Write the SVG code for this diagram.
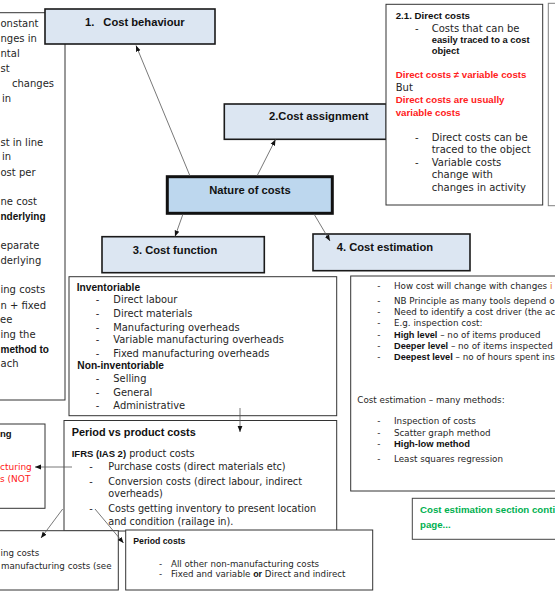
<svg xmlns="http://www.w3.org/2000/svg" width="555" height="592" viewBox="0 0 555 592">
<style>
.r{font-family:"DejaVu Sans",sans-serif;fill:#262626}
.b{font-family:"Liberation Sans",Arial,sans-serif;font-weight:bold;fill:#111}
.hb{font-family:"Liberation Sans",Arial,sans-serif;font-weight:bold;font-size:11.2px;fill:#111}
.red{fill:#ff2020}
.grn{font-family:"Liberation Sans",Arial,sans-serif;font-weight:bold;font-size:9.7px;fill:#00b050}
.hdr{fill:#dce6f2;stroke:#1a1a1a;stroke-width:1.6}
.tb{fill:#fff;stroke:#333;stroke-width:1}
.cn{stroke:#555;stroke-width:0.8;fill:none}
</style>
<defs>
<marker id="ah" viewBox="0 0 10 10" refX="10" refY="5" markerWidth="6" markerHeight="6" markerUnits="userSpaceOnUse" orient="auto"><path d="M0,1 L10,5 L0,9 z" fill="#111"/></marker>
</defs>
<rect width="555" height="592" fill="#fff"/>

<g id="left-notes">
<rect class="tb" x="-2" y="12.7" width="67" height="387.3"/>
<g class="r" font-size="10">
<text x="0.5" y="27.3">onstant</text>
<text x="0.5" y="41.6">nges in</text>
<text x="0.5" y="56.6">ntal</text>
<text x="0.5" y="71.6">st</text>
<text x="12" y="86.6">changes</text>
<text x="2" y="101.6">in</text>
<text x="0.5" y="145.6">st in line</text>
<text x="2" y="160">in</text>
<text x="0.5" y="175.6">ost per</text>
<text x="0.5" y="204.5">ne cost</text>
<text x="0.5" y="219.8" class="b" font-size="10">nderlying</text>
<text x="0.5" y="249.3">eparate</text>
<text x="0.5" y="264.3">derlying</text>
<text x="0.5" y="293.3">ing costs</text>
<text x="0.5" y="309">n + fixed</text>
<text x="0" y="323.3">ee</text>
<text x="0.5" y="338.3">ing the</text>
<text x="0.5" y="352.6" class="b" font-size="10">method to</text>
<text x="0.5" y="367.3">ach</text>
</g>
</g>

<g id="right-partial">
<rect x="548.3" y="3.3" width="20" height="202.4" fill="#fff" stroke="#808080" stroke-width="1"/>
</g>

<g id="cost-behaviour">
<rect class="hdr" x="45" y="9" width="170" height="35"/>
<text class="hb" x="85" y="26">1.</text>
<text class="hb" x="103.3" y="26">Cost behaviour</text>
</g>

<g id="cost-assignment">
<rect class="hdr" x="224.3" y="104" width="162" height="35.3"/>
<text class="hb" x="269" y="119.7">2.Cost assignment</text>
</g>

<g id="direct-costs">
<rect class="tb" x="386" y="4.3" width="156.7" height="200.7"/>
<text class="b" font-size="9.7" x="395.7" y="19.3">2.1. Direct costs</text>
<g class="r" font-size="10">
<text x="415" y="31.6">-</text>
<text x="431.7" y="31.6">Costs that can be</text>
<text x="415" y="140.6">-</text>
<text x="431.7" y="140.6">Direct costs can be</text>
<text x="431.7" y="153.3">traced to the object</text>
<text x="415" y="166">-</text>
<text x="431.7" y="166">Variable costs</text>
<text x="431.7" y="178.3">change with</text>
<text x="431.7" y="190.6">changes in activity</text>
<text x="395.7" y="90.6">But</text>
</g>
<g class="b" font-size="9.4">
<text x="431.7" y="42.6">easily traced to a cost</text>
<text x="431.7" y="54">object</text>
</g>
<g class="b red" font-size="9.7">
<text x="395.7" y="78.3" class="b red">Direct costs ≠ variable costs</text>
<text x="395.7" y="103.3" class="b red">Direct costs are usually</text>
<text x="395.7" y="115.6" class="b red">variable costs</text>
</g>
</g>

<g id="nature-of-costs">
<rect x="167.3" y="176.7" width="165" height="36.6" fill="#bdd7ee" stroke="#111" stroke-width="3"/>
<text class="hb" font-size="11" x="250" y="194" text-anchor="middle">Nature of costs</text>
</g>

<g id="cost-function">
<rect class="hdr" x="102" y="236.7" width="162.3" height="36"/>
<text class="hb" x="132.7" y="254">3. Cost function</text>
</g>

<g id="cost-estimation">
<rect class="hdr" x="313" y="234" width="157" height="36.7"/>
<text class="hb" x="336.7" y="250.7">4. Cost estimation</text>
</g>

<g id="inventoriable">
<rect class="tb" x="69" y="276.7" width="267.7" height="139"/>
<text class="b" font-size="10.2" x="76.7" y="290.6">Inventoriable</text>
<text class="b" font-size="10.2" x="77.3" y="369.3">Non-inventoriable</text>
<g class="r" font-size="9.9">
<text x="95.7" y="303.3">-</text><text x="113.3" y="303.3">Direct labour</text>
<text x="95.7" y="317.3">-</text><text x="113.3" y="317.3">Direct materials</text>
<text x="95.7" y="330.6">-</text><text x="113.3" y="330.6">Manufacturing overheads</text>
<text x="95.7" y="343.3">-</text><text x="113.3" y="343.3">Variable manufacturing overheads</text>
<text x="95.7" y="357.3">-</text><text x="113.3" y="357.3">Fixed manufacturing overheads</text>
<text x="95.7" y="382.3">-</text><text x="113.3" y="382.3">Selling</text>
<text x="95.7" y="395.6">-</text><text x="113.3" y="395.6">General</text>
<text x="95.7" y="409">-</text><text x="113.3" y="409">Administrative</text>
</g>
</g>

<g id="estimation-notes">
<rect class="tb" x="350.7" y="276" width="215" height="215"/>
<g class="r" font-size="8.75">
<text x="377.3" y="289">-</text><text x="394" y="289">How cost will change with changes <tspan fill="#e46c0a">i</tspan></text>
<text x="377.3" y="303.7">-</text><text x="394" y="303.7">NB Principle as many tools depend o</text>
<text x="377.3" y="314.7">-</text><text x="394" y="314.7">Need to identify a cost driver (the ac</text>
<text x="377.3" y="325.7">-</text><text x="394" y="325.7">E.g. inspection cost:</text>
<text x="377.3" y="337.7">-</text><text x="394" y="337.7"><tspan class="b" font-size="9.2">High level</tspan> – no of items produced</text>
<text x="377.3" y="349">-</text><text x="394" y="349"><tspan class="b" font-size="9.2">Deeper level</tspan> – no of items inspected</text>
<text x="377.3" y="360.3">-</text><text x="394" y="360.3"><tspan class="b" font-size="9.2">Deepest level</tspan> – no of hours spent ins</text>
<text x="357.3" y="403">Cost estimation – many methods:</text>
<text x="377.3" y="423.7">-</text><text x="394" y="423.7">Inspection of costs</text>
<text x="377.3" y="435.7">-</text><text x="394" y="435.7">Scatter graph method</text>
<text x="377.3" y="447.3">-</text><text x="394" y="447.3" class="b" font-size="9.4">High-low method</text>
<text x="377.3" y="461.7">-</text><text x="394" y="461.7">Least squares regression</text>
</g>
</g>

<g id="continued-note">
<rect x="412.3" y="498.3" width="160" height="41" fill="#fff" stroke="#444" stroke-width="1"/>
<text class="grn" x="420" y="512.8">Cost estimation section conti</text>
<text class="grn" x="420" y="527.5">page...</text>
</g>

<g id="period-vs-product">
<rect class="tb" x="64" y="420.5" width="272.7" height="110.5"/>
<text class="b" font-size="10.9" x="71.7" y="435.5">Period vs product costs</text>
<text class="r" font-size="9.7" x="71.7" y="457.3"><tspan class="b" font-size="9.5">IFRS (IAS 2)</tspan> product costs</text>
<g class="r" font-size="9.7">
<text x="89.3" y="470">-</text><text x="108.3" y="470">Purchase costs (direct materials etc)</text>
<text x="89.3" y="485">-</text><text x="108.3" y="485">Conversion costs (direct labour, indirect</text>
<text x="108.3" y="497.3">overheads)</text>
<text x="89.3" y="512.3">-</text><text x="108.3" y="512.3">Costs getting inventory to present location</text>
<text x="108.3" y="525">and condition (railage in).</text>
</g>
</g>

<g id="manufacturing-costs">
<rect class="tb" x="-2" y="530.7" width="120.3" height="59.3"/>
<g class="r" font-size="8.7">
<text x="0.5" y="555.7">ing costs</text>
<text x="1" y="569">manufacturing costs (see</text>
</g>
</g>

<g id="period-costs">
<rect class="tb" x="125.7" y="530" width="247" height="60"/>
<text class="b" font-size="8.7" x="133.3" y="543.8">Period costs</text>
<g class="r" font-size="8.7">
<text x="159" y="567">-</text><text x="171" y="567">All other non-manufacturing costs</text>
<text x="159" y="577">-</text><text x="171" y="577">Fixed and variable <tspan class="b" font-size="8.9">or</tspan> Direct and indirect</text>
</g>
</g>

<g id="non-manufacturing">
<rect class="tb" x="-2" y="424" width="47" height="84.3"/>
<text class="b" font-size="9.5" x="0" y="437.3">ng</text>
<g class="r red" font-size="9">
<text x="0" y="470" class="r red">cturing</text>
<text x="0" y="481.6" class="r red">s (NOT</text>
</g>
</g>

<g id="connectors">
<line class="cn" x1="190" y1="176" x2="136" y2="45.5" marker-end="url(#ah)"/>
<line class="cn" x1="257" y1="176" x2="275.5" y2="139.5" marker-end="url(#ah)"/>
<line class="cn" x1="183" y1="214" x2="175" y2="236.5" marker-end="url(#ah)"/>
<line class="cn" x1="314" y1="214" x2="330" y2="241" marker-end="url(#ah)"/>
<line class="cn" x1="240" y1="408" x2="240" y2="432" marker-end="url(#ah)"/>
<line class="cn" x1="72" y1="467" x2="35" y2="467" marker-end="url(#ah)"/>
<line class="cn" x1="62.7" y1="509" x2="41" y2="538" marker-end="url(#ah)"/>
<line class="cn" x1="95" y1="509" x2="123.5" y2="543" marker-end="url(#ah)"/>
</g>
</svg>
